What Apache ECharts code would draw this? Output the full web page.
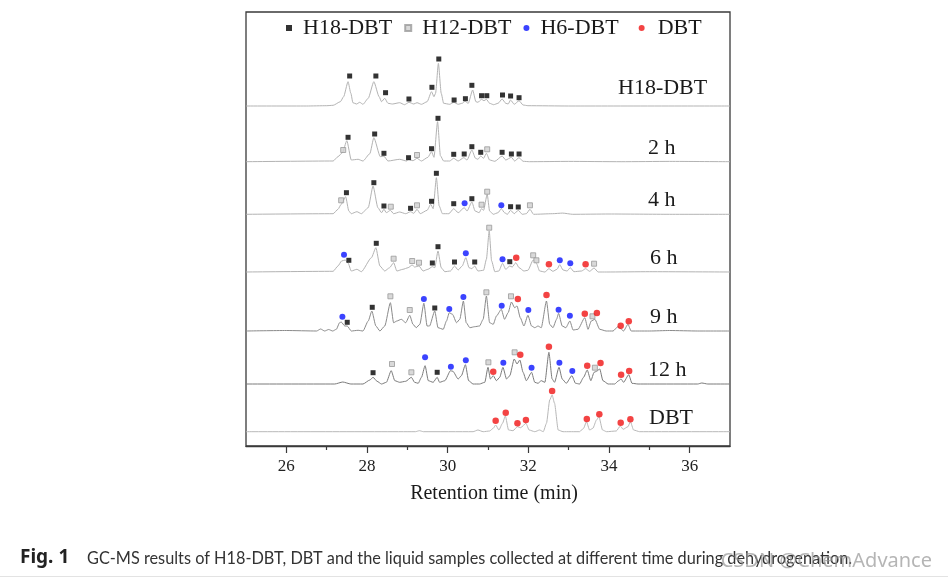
<!DOCTYPE html>
<html><head><meta charset="utf-8">
<script src="https://cdn.jsdelivr.net/npm/echarts@6/dist/echarts.min.js"></script>
<style>html,body{margin:0;padding:0;background:#fff}#c{width:948px;height:578px}</style>
</head><body><div id="c"></div>
<script>
// ---------- data (retention time in min, intensity above each trace's baseline) ----------
const sampleNames = ['H18-DBT', '2 h', '4 h', '6 h', '9 h', '12 h', 'DBT'];
const baselines = [340, 284.3, 231.7, 174, 115, 62, 14.3];   // vertical stacking offsets
const xTicksMajor = [26, 28, 30, 32, 34, 36];
const xTicksMinor = [27, 29, 31, 33, 35];
const markerNames = ['H18-DBT', 'H12-DBT', 'H6-DBT', 'DBT'];

const traceH18 = [[25,0],[26.5,0],[27.0,0.3],[27.16,0.7],[27.34,4.3],[27.42,9.3],[27.53,24.3],[27.6,12.7],[27.65,3.3],[27.74,2],[27.82,3.7],[27.9,1.7],[28.03,7.7],[28.17,24.3],[28.3,9.3],[28.36,4.3],[28.44,7.7],[28.52,2.7],[28.63,2],[28.81,3.3],[28.93,1.3],[29.04,3.7],[29.16,2],[29.24,3.3],[29.35,1.7],[29.49,4.3],[29.6,14.3],[29.66,9.3],[29.7,12.7],[29.77,42.7],[29.84,12.7],[29.9,2.7],[30.05,1.7],[30.15,3.7],[30.26,1.7],[30.36,2.7],[30.43,4.7],[30.51,2.7],[30.62,16],[30.7,4.3],[30.75,3.7],[30.84,6.7],[30.9,5.3],[30.96,6.7],[31.04,2.7],[31.14,1.3],[31.25,2.7],[31.35,7],[31.44,2.7],[31.5,2],[31.56,6],[31.65,1.7],[31.77,5.3],[31.87,1],[31.99,0.3],[33,0],[37,0]];
const trace2h = [[25,0],[27.16,0.7],[27.28,5],[27.39,9],[27.5,21],[27.61,1.7],[27.78,2.4],[27.9,0.7],[28.07,8],[28.17,24],[28.33,5],[28.42,5.5],[28.52,0.7],[28.81,2.4],[28.98,0.7],[29.03,2.4],[29.14,1],[29.24,3.4],[29.35,0.7],[29.51,4.4],[29.6,10],[29.66,4.4],[29.75,40],[29.82,6],[29.9,0.7],[30.05,0.7],[30.15,3.4],[30.26,0.7],[30.4,4],[30.48,1.7],[30.6,11.7],[30.69,3.4],[30.75,2.4],[30.82,5.7],[30.89,3.4],[30.96,8.4],[31.04,1.7],[31.17,0.4],[31.35,5.7],[31.44,1.7],[31.58,4.4],[31.66,0.7],[31.77,4],[31.87,0.4],[32.03,0],[33,0.3],[34.3,0],[35.5,0.3],[37,0]];
const trace4h = [[25,0],[27.16,0.6],[27.28,5],[27.36,10],[27.47,17.6],[27.55,3.3],[27.61,0.6],[27.75,2.6],[27.86,0.6],[28.03,6.6],[28.15,28.3],[28.27,6.6],[28.36,1.6],[28.42,5],[28.48,1.6],[28.58,4],[28.66,0.6],[28.81,2.3],[28.96,0.6],[29.08,2.6],[29.16,1],[29.24,5],[29.32,0.6],[29.49,4],[29.58,10],[29.64,5.6],[29.72,36.6],[29.79,8.3],[29.87,0.6],[30.03,0.6],[30.15,5.6],[30.26,1.6],[30.41,6.6],[30.48,3.3],[30.6,12.3],[30.68,3.3],[30.78,1.6],[30.84,5.6],[30.89,4],[30.98,20],[31.04,3.3],[31.13,0],[31.25,1.6],[31.33,5.6],[31.41,1.6],[31.48,0],[31.56,4],[31.65,0.6],[31.75,4],[31.85,0],[31.95,0.6],[32.04,5],[32.13,0],[32.6,0.6],[32.85,1.2],[33.1,0],[34,0.3],[35.5,0],[37,0]];
const trace6h = [[25,0],[27.16,0.7],[27.28,6],[27.37,11],[27.46,12],[27.53,9],[27.61,1],[27.75,2.7],[27.86,0.3],[28.11,14.3],[28.22,24.3],[28.32,6],[28.44,1],[28.56,4.3],[28.66,9.3],[28.74,1],[28.89,2.7],[29.02,4.3],[29.12,7],[29.18,5],[29.29,6],[29.39,1],[29.51,2.7],[29.62,5.3],[29.68,4.3],[29.76,21],[29.84,4.3],[29.93,0.3],[30.07,1],[30.17,6],[30.26,2],[30.36,6],[30.45,14.3],[30.53,4.3],[30.6,3.3],[30.67,6],[30.75,1],[30.89,1.7],[30.96,12.7],[31.03,41],[31.09,11],[31.17,0.3],[31.27,1],[31.36,8.7],[31.44,2.7],[31.54,6],[31.6,5],[31.69,9.3],[31.77,4.3],[31.89,1],[31.99,1.7],[32.12,12],[32.2,8.7],[32.28,1],[32.41,0],[32.51,3.3],[32.61,0.7],[32.71,2.7],[32.78,7.3],[32.86,2],[32.96,1],[33.04,4.3],[33.13,0.3],[33.32,1],[33.42,3.3],[33.52,0.7],[33.63,4],[33.73,0],[33.93,0],[35,0.3],[37,0]];
const trace9h = [[25,0],[26.0,0.5],[26.75,0],[26.85,2],[26.95,0],[27.05,1.5],[27.15,0],[27.24,1.7],[27.32,8.3],[27.36,9],[27.45,5],[27.51,5],[27.61,0],[27.78,0.7],[27.9,0],[28.03,10],[28.12,20],[28.22,5],[28.32,0],[28.44,5],[28.58,28.3],[28.66,8.3],[28.74,10],[28.85,11.7],[28.96,8.3],[29.06,15.7],[29.14,6.7],[29.22,3.3],[29.31,6.7],[29.41,27.7],[29.49,5],[29.55,5],[29.68,20],[29.76,3.3],[29.89,1.7],[29.97,10],[30.04,18.3],[30.12,16.7],[30.22,8.3],[30.3,11.7],[30.39,30],[30.46,8.3],[30.55,3.3],[30.67,4.3],[30.79,5],[30.88,11.7],[30.96,35],[31.04,8.3],[31.13,6.7],[31.21,15],[31.33,21.7],[31.41,11.7],[31.5,18.3],[31.58,29],[31.66,23.3],[31.72,25],[31.8,13.3],[31.89,5],[31.99,15.7],[32.08,5],[32.16,3.3],[32.24,5],[32.32,3.3],[32.45,30],[32.53,6.7],[32.61,3.3],[32.7,11.7],[32.75,17.7],[32.84,5],[32.93,3.3],[33.03,10],[33.11,1],[33.23,1.7],[33.4,13.3],[33.48,1.7],[33.56,10],[33.65,11.7],[33.77,1.7],[33.93,0],[34.1,0],[34.22,4.3],[34.29,2.3],[34.36,0],[34.47,6.7],[34.55,0],[34.76,0],[35.01,0],[35.5,0.5],[36.2,0],[37,0]];
const trace12h = [[25,0],[27.2,0],[27.4,2],[27.6,0],[27.9,0],[28.07,4],[28.15,6.7],[28.25,2.7],[28.36,0],[28.48,1.7],[28.6,13.3],[28.69,3.3],[28.81,1.7],[28.96,2.7],[29.1,6.7],[29.18,1.7],[29.27,0.7],[29.35,6.7],[29.44,18.3],[29.52,3.3],[29.64,1.7],[29.74,6.7],[29.8,1.7],[29.93,3.3],[30.07,13.3],[30.13,12.7],[30.26,5],[30.34,8.3],[30.44,19.3],[30.52,3.3],[30.63,0],[30.79,0],[30.92,1.7],[31.0,16.7],[31.06,5],[31.13,8.3],[31.21,3.3],[31.29,6.7],[31.37,16.7],[31.46,5],[31.54,8.3],[31.65,25],[31.72,20],[31.79,24],[31.87,11.7],[31.95,3.3],[32.08,11.7],[32.16,1.7],[32.24,0.7],[32.32,3.3],[32.41,1.7],[32.51,31.7],[32.59,5],[32.65,1.7],[32.76,16.7],[32.84,5],[32.94,0.7],[33.08,8.3],[33.17,0.7],[33.27,0],[33.37,6.7],[33.46,14],[33.55,3.3],[33.63,11.7],[33.69,12.7],[33.77,15],[33.85,3.3],[33.98,0],[34.14,0],[34.24,3.3],[34.3,5],[34.36,1.7],[34.49,9.3],[34.57,0.7],[34.72,0],[35.01,0],[36.2,0],[36.3,1],[36.45,0],[37,0]];
const traceDBT = [[25,0],[29.2,0],[29.3,1],[29.4,0],[30.63,0],[30.75,1.7],[30.88,0],[31.04,0.7],[31.13,3.4],[31.19,6.7],[31.27,1.7],[31.36,8.4],[31.43,15.7],[31.51,1.7],[31.62,1],[31.73,5],[31.81,4],[31.94,8.4],[32.02,1.7],[32.16,0],[32.28,1.7],[32.37,0],[32.45,8.4],[32.53,31.7],[32.59,36.7],[32.65,28.4],[32.74,1.7],[32.86,0],[33.27,0],[33.37,3.4],[33.44,10],[33.52,1.7],[33.6,3.4],[33.69,11.7],[33.75,15],[33.84,1.7],[33.94,0],[34.18,0.7],[34.28,5.7],[34.35,2.4],[34.47,5],[34.53,10],[34.61,1.7],[34.76,0],[37,0]];
const traces = [traceH18, trace2h, trace4h, trace6h, trace9h, trace12h, traceDBT];

// markers: [trace index, retention time, height above baseline]
const marksH18 = [
 [0,27.57,30],[0,28.22,30],[0,28.46,13.3],[0,29.04,7],[0,29.61,18.7],[0,29.78,47],[0,30.16,6],[0,30.44,7.3],[0,30.60,20.7],[0,30.84,10.3],[0,30.97,10.3],[0,31.36,11],[0,31.56,10],[0,31.77,8.3],
 [1,27.53,24.4],[1,28.19,27.7],[1,28.42,8.4],[1,29.03,4],[1,29.60,13],[1,29.76,43.4],[1,30.15,7.4],[1,30.41,7.7],[1,30.60,15],[1,30.82,9.4],[1,31.35,9.4],[1,31.58,7.7],[1,31.77,7.7],
 [2,27.49,21.6],[2,28.17,31.6],[2,28.42,8.3],[2,29.08,6],[2,29.60,13],[2,29.72,41],[2,30.15,10.6],[2,30.60,15.6],[2,31.56,7.6],[2,31.75,7.3],
 [3,27.55,11.7],[3,28.23,28.7],[3,29.62,9],[3,29.76,25.3],[3,30.17,10],[3,30.67,10],[3,31.54,10.3],
 [4,27.51,8.7],[4,28.13,23.7],[4,29.68,23],
 [5,28.15,11.3],[5,29.74,11.7]];
const marksH12 = [
 [1,27.41,11.7],[1,29.24,6.7],[1,30.98,12.4],
 [2,27.36,14],[2,28.59,7.6],[2,29.24,9],[2,30.84,9.6],[2,30.98,22.6],[2,32.04,9],
 [3,28.66,13.3],[3,29.12,11],[3,29.29,9.3],[3,31.03,44.3],[3,32.12,16.7],[3,32.20,11.7],[3,33.63,8.3],
 [4,28.58,34.7],[4,29.06,21],[4,30.96,38.7],[4,31.57,34.7],[4,33.59,14.7],
 [5,28.62,20],[5,29.10,11.7],[5,31.01,21.7],[5,31.66,31.7],[5,33.65,16.3]];
const marksH6 = [
 [2,30.42,11],[2,31.33,9],
 [3,27.43,17.3],[3,30.45,18.7],[3,31.36,12.7],[3,32.78,11.7],[3,33.04,8.7],
 [4,27.39,14.3],[4,29.41,32],[4,30.04,22],[4,30.39,34],[4,31.34,25.3],[4,32.00,21],[4,32.75,21.3],[4,33.03,15.3],
 [5,29.44,26.7],[5,30.08,17.3],[5,30.45,23.7],[5,31.38,21.3],[5,32.08,16.3],[5,32.77,21.3],[5,33.09,13]];
const marksDBT = [
 [3,31.70,14.3],[3,32.51,7.7],[3,33.42,7.7],
 [4,31.74,32],[4,32.45,36],[4,33.40,17.3],[4,33.70,18],[4,34.29,5.3],[4,34.49,9.7],
 [5,31.13,12.3],[5,31.80,29.3],[5,32.51,37.3],[5,33.46,18.3],[5,33.79,21],[5,34.30,9.3],[5,34.50,13],
 [6,31.19,11],[6,31.44,19],[6,31.73,8.4],[6,31.94,11.7],[6,32.59,40.7],[6,33.45,12.7],[6,33.76,17.4],[6,34.29,9],[6,34.53,12.4]];

// ---------- chart ----------
const SERIF = '"Liberation Serif","Times New Roman",serif';
const lineColors = ['#b3b3b3','#b3b3b3','#b3b3b3','#b3b3b3','#8a8a8a','#7a7a7a','#b8b8b8'];
const toXY = m => [m[1], baselines[m[0]] + m[2]];

const lineSeries = traces.map((tr, i) => ({
  type: 'line', name: sampleNames[i] + ' trace',
  data: tr.map(p => [p[0], baselines[i] + p[1]]),
  showSymbol: false, symbol: 'none', smooth: 0.2, smoothMonotone: 'x',
  lineStyle: { color: lineColors[i], width: 1 }, z: 2, silent: true
}));

const markerStyles = [
  { symbol: 'rect', symbolSize: 5, itemStyle: { color: '#000' } },
  { symbol: 'rect', symbolSize: 5, itemStyle: { color: '#cfcfcf', borderColor: '#9a9a9a', borderWidth: 1 } },
  { symbol: 'circle', symbolSize: 6, itemStyle: { color: '#0a14ff' } },
  { symbol: 'circle', symbolSize: 6.5, itemStyle: { color: '#f01414' } }
];
const markArrays = [marksH18, marksH12, marksH6, marksDBT];
const scatterSeries = markArrays.map((arr, k) => Object.assign({
  type: 'scatter', name: markerNames[k], data: arr.map(toXY), z: 5
}, markerStyles[k]));

const labelPos = [[618,88],[648,148],[648,200],[650,258],[650,317],[648,370],[649,418]];

const chart = echarts.init(document.getElementById('c'), null, { renderer: 'canvas' });
chart.setOption({
  animation: false,
  backgroundColor: '#fff',
  grid: { left: 246, top: 12, width: 484, height: 434, show: true, borderColor: '#3a3a3a', borderWidth: 1.3, backgroundColor: 'transparent' },
  legend: {
    left: 286, top: 17, padding: 0, itemWidth: 6, itemHeight: 6, itemGap: 12,
    textStyle: { fontFamily: SERIF, fontSize: 22, color: '#1a1a1a', padding: [0,0,0,6], lineHeight: 22 },
    data: [
      { name: 'H18-DBT' },
      { name: 'H12-DBT' },
      { name: 'H6-DBT', textStyle: { padding: [0,8,0,6] } },
      { name: 'DBT', textStyle: { padding: [0,0,0,8] } }
    ]
  },
  xAxis: [
    { type: 'value', min: 25, max: 37, position: 'bottom',
      axisLine: { show: true, lineStyle: { color: '#3a3a3a', width: 1.3 } },
      axisTick: { show: true, customValues: xTicksMajor, length: 7, lineStyle: { color: '#3a3a3a', width: 1.2 } },
      axisLabel: { customValues: xTicksMajor, fontFamily: SERIF, fontSize: 17, color: '#222', margin: 12 },
      splitLine: { show: false },
      name: 'Retention time (min)', nameLocation: 'middle', nameGap: 38,
      nameTextStyle: { fontFamily: SERIF, fontSize: 20, color: '#1a1a1a', padding: [0,0,0,12] } },
    { type: 'value', min: 25, max: 37, position: 'bottom', gridIndex: 0,
      axisLine: { show: false },
      axisTick: { show: true, customValues: xTicksMinor, length: 4, lineStyle: { color: '#3a3a3a', width: 1.2 } },
      axisLabel: { show: false }, splitLine: { show: false } }
  ],
  yAxis: { type: 'value', min: 0, max: 434, show: false, splitLine: { show: false } },
  series: lineSeries.concat(scatterSeries),
  graphic: sampleNames.map((n, i) => ({
    type: 'text', x: labelPos[i][0], y: labelPos[i][1], z: 10,
    style: { text: n, font: '22px ' + SERIF, fill: '#1a1a1a', textAlign: 'left', textVerticalAlign: 'middle' }
  })).concat([
    { type: 'text', x: 20, y: 558, style: { text: 'Fig. 1', font: 'bold 19px "Noto Sans"', fill: '#222', textVerticalAlign: 'middle' } },
    { type: 'text', x: 87, y: 559, style: { text: 'GC-MS results of H18-DBT, DBT and the liquid samples collected at different time during dehydrogenation.', font: '16.3px Lato', fill: '#333', textVerticalAlign: 'middle' } },
    { type: 'text', x: 932, y: 561, z: 20, style: { text: 'CSDN @ChemAdvance', font: '20px "Noto Sans"', fill: 'rgba(150,150,150,0.7)', textAlign: 'right', textVerticalAlign: 'middle' } },
    { type: 'line', shape: { x1: 0, y1: 576.5, x2: 948, y2: 576.5 }, style: { stroke: '#e3e3e3', lineWidth: 1 } }
  ])
});
</script></body></html>
